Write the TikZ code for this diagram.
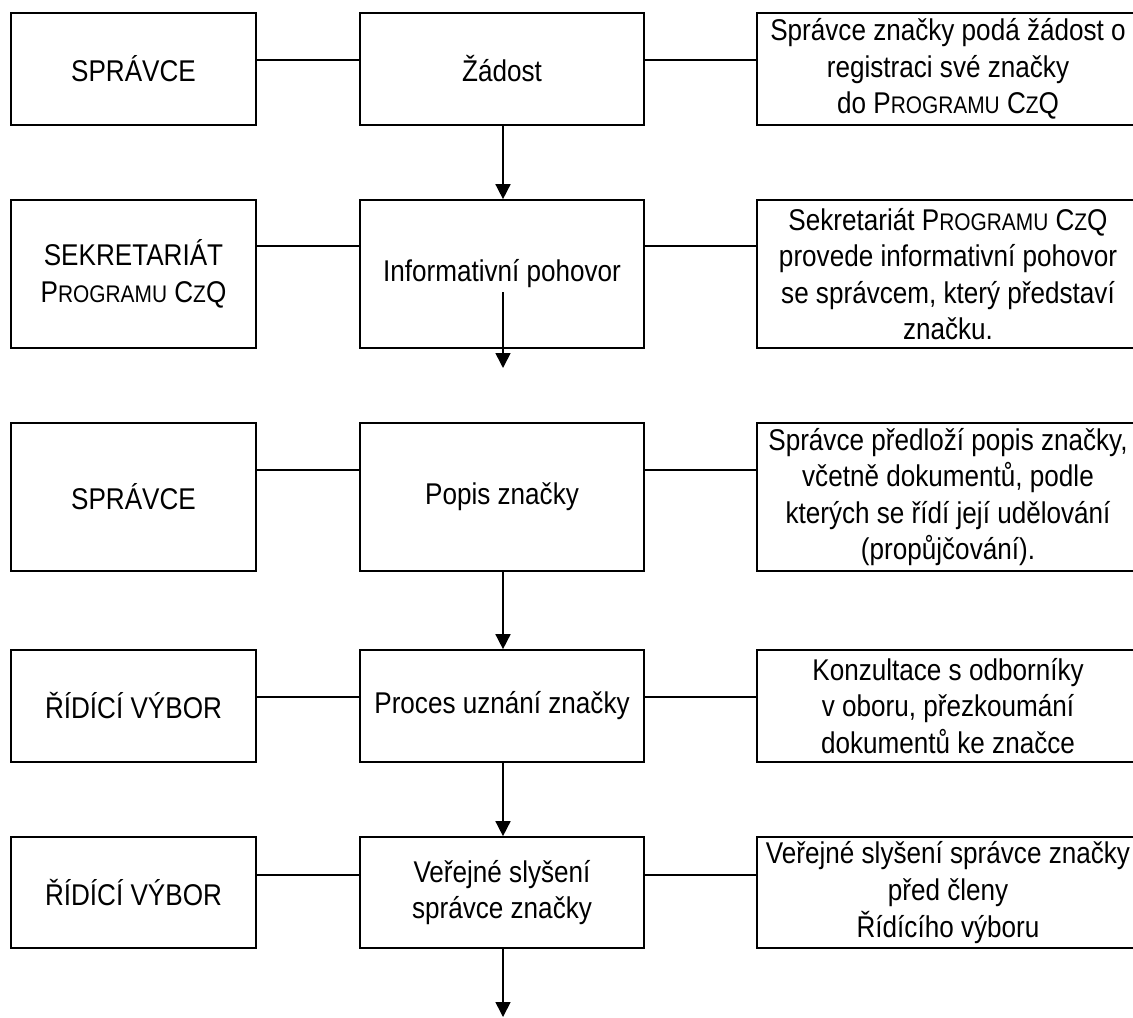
\documentclass[tikz,border=0pt]{standalone}
\usepackage{fontspec}
\setmainfont{Liberation Sans}[FakeStretch=0.87]
\usetikzlibrary{arrows.meta}

\newcommand{\smc}[1]{{\fontsize{12}{14}\selectfont #1}}
\newcommand{\czq}{P\smc{ROGRAMU} C\smc{Z}Q}

\begin{document}
\begin{tikzpicture}[x=0.5pt, y=-0.5pt,
	box/.style={draw, line width=0.85pt, align=center, inner sep=0pt, font=\fontsize{15}{18.3}\selectfont},
	who/.style={box, minimum width=122.5pt},
	what/.style={box, minimum width=142pt},
	note/.style={box, minimum width=191pt},
	link/.style={line width=0.8pt},
	flow/.style={line width=0.8pt, -{Triangle[width=7.5pt,length=7.5pt]}}]

		\useasboundingbox (0,0) rectangle (1133,1017);

		% Define the nodes
		\node[who, minimum height=56pt] (spravce_a) at (133.5,69) {SPRÁVCE};
		\node[what, minimum height=56pt] (zadost) at (502,69) {Žádost};
		\node[note, minimum height=56pt] (zadost_text) at (948,69) {Správce značky podá žádost o\\registraci své značky\\do \czq};

		\node[who, minimum height=74pt] (sekretariat) at (133.5,274) {SEKRETARIÁT\\\czq};
		\node[what, minimum height=74pt] (pohovor) at (502,274) {Informativní pohovor};
		\node[note, minimum height=74pt] (pohovor_text) at (948,274) {Sekretariát \czq\\provede informativní pohovor\\se správcem, který představí\\značku.};

		\node[who, minimum height=74pt] (spravce_b) at (133.5,497) {SPRÁVCE};
		\node[what, minimum height=74pt] (popis) at (502,497) {Popis značky};
		\node[note, minimum height=74pt] (popis_text) at (948,497) {Správce předloží popis značky,\\včetně dokumentů, podle\\kterých se řídí její udělování\\(propůjčování).};

		\node[who, minimum height=56pt] (vybor_a) at (133.5,706) {ŘÍDÍCÍ VÝBOR};
		\node[what, minimum height=56pt] (uznani) at (502,706) {Proces uznání značky};
		\node[note, minimum height=56pt] (uznani_text) at (948,706) {Konzultace s odborníky\\v oboru, přezkoumání\\dokumentů ke značce};

		\node[who, minimum height=55.5pt] (vybor_b) at (133.5,892.5) {ŘÍDÍCÍ VÝBOR};
		\node[what, minimum height=55.5pt] (slyseni) at (502,892.5) {Veřejné slyšení\\správce značky};
		\node[note, minimum height=55.5pt] (slyseni_text) at (948,892.5) {Veřejné slyšení správce značky\\před členy\\Řídícího výboru};

		\coordinate (pohovor_end) at (503,368);
		\coordinate (slyseni_end) at (503,1017);

		% Define the edges
		\draw[link] ([yshift=4.5pt]spravce_a.east) -- ([yshift=4.5pt]zadost.west);
		\draw[link] ([yshift=4.5pt]zadost.east) -- ([yshift=4.5pt]zadost_text.west);
		\draw[link] ([yshift=14pt]sekretariat.east) -- ([yshift=14pt]pohovor.west);
		\draw[link] ([yshift=14pt]pohovor.east) -- ([yshift=14pt]pohovor_text.west);
		\draw[link] ([yshift=13.5pt]spravce_b.east) -- ([yshift=13.5pt]popis.west);
		\draw[link] ([yshift=13.5pt]popis.east) -- ([yshift=13.5pt]popis_text.west);
		\draw[link] ([yshift=4.5pt]vybor_a.east) -- ([yshift=4.5pt]uznani.west);
		\draw[link] ([yshift=4.5pt]uznani.east) -- ([yshift=4.5pt]uznani_text.west);
		\draw[link] ([yshift=8.75pt]vybor_b.east) -- ([yshift=8.75pt]slyseni.west);
		\draw[link] ([yshift=8.75pt]slyseni.east) -- ([yshift=8.75pt]slyseni_text.west);

		% Flow arrows
		\draw[flow] ([xshift=0.5pt]zadost.south) -- ([xshift=0.5pt]pohovor.north);
		\draw[flow] ([xshift=0.5pt,yshift=-9pt]pohovor.center) -- (pohovor_end);
		\draw[flow] ([xshift=0.5pt]popis.south) -- ([xshift=0.5pt]uznani.north);
		\draw[flow] ([xshift=0.5pt]uznani.south) -- ([xshift=0.5pt]slyseni.north);
		\draw[flow] ([xshift=0.5pt]slyseni.south) -- (slyseni_end);

	\end{tikzpicture}
\end{document}
